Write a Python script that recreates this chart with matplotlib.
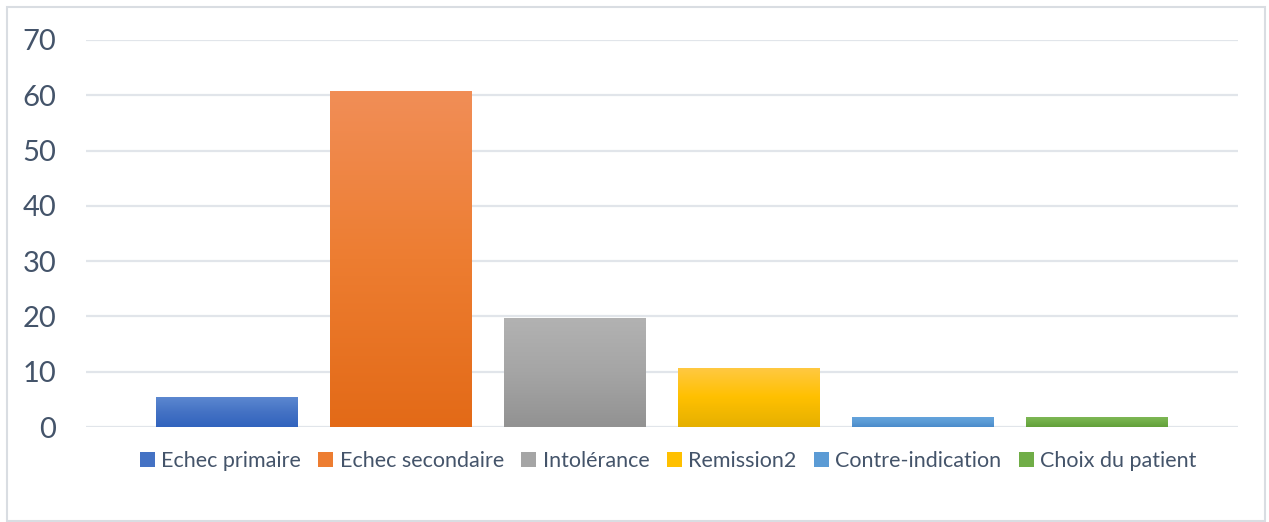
import numpy as np
import matplotlib
matplotlib.use("Agg")
from matplotlib import pyplot as plt
from matplotlib.colors import LinearSegmentedColormap
from matplotlib.patches import Patch, Rectangle

categories = ["Echec primaire", "Echec secondaire", "Intolérance", "Remission2",
              "Contre-indication", "Choix du patient"]
values = [5.36, 60.71, 19.64, 10.71, 1.79, 1.79]
yticks = [0, 10, 20, 30, 40, 50, 60, 70]

# light top / base / dark bottom, like the Excel gradient fill
gradients = [
    ("#5C88D0", "#4472C4", "#3163BE"),
    ("#F18E57", "#ED7D31", "#E36A17"),
    ("#B2B2B2", "#A5A5A5", "#929292"),
    ("#FFC944", "#FFC000", "#E5B000"),
    ("#64A3DC", "#5B9BD5", "#4A8BCA"),
    ("#7EB755", "#70AD47", "#62A03A"),
]

plt.rcParams['font.family'] = ['Lato', 'DejaVu Sans']
text_color = "#44546A"
grid_color = "#E1E5EA"

fig = plt.figure(figsize=(12.69, 5.22), dpi=100)
ax = fig.add_axes([86 / 1269, 95 / 522, (1238 - 86) / 1269, 387 / 522])

x = np.arange(len(categories))
bars = ax.bar(x, values, width=0.816, color="none", edgecolor="none", zorder=3)

for rect, cols in zip(bars, gradients):
    cmap = LinearSegmentedColormap.from_list("g", [cols[2], cols[1], cols[0]])
    grad = np.linspace(0, 1, 256).reshape(-1, 1)
    x0 = rect.get_x()
    w = rect.get_width()
    h = rect.get_height()
    im = ax.imshow(grad, cmap=cmap, origin="lower", aspect="auto",
                   extent=(x0, x0 + w, 0, h), zorder=3)
    im.set_clip_path(rect)

ax.set_xlim(-0.81, 5.81)
ax.set_ylim(0, 70)
ax.set_yticks(yticks)
ax.set_xticks([])
ax.yaxis.grid(True, color=grid_color, linewidth=1.6, zorder=0)
ax.set_axisbelow(True)
for s in ax.spines.values():
    s.set_visible(False)
ax.tick_params(axis="y", length=0, pad=21.5, labelsize=21, labelcolor=text_color)

handles = [Patch(facecolor=c[1], edgecolor="none") for c in gradients]
leg = fig.legend(handles, categories, ncol=6, loc="center",
                 bbox_to_anchor=(668 / 1269, 1 - 461 / 522), frameon=False,
                 fontsize=15.5, labelcolor=text_color, handlelength=0.7,
                 handleheight=0.7, handletextpad=0.3, columnspacing=0.8,
                 borderaxespad=0)

# outer chart border
fig.patches.append(Rectangle((7 / 1269, 1 / 522), 1258 / 1269, 514 / 522,
                             transform=fig.transFigure, fill=False,
                             edgecolor="#D9DDE2", linewidth=1.5))

fig.savefig("out.png", dpi=100)
